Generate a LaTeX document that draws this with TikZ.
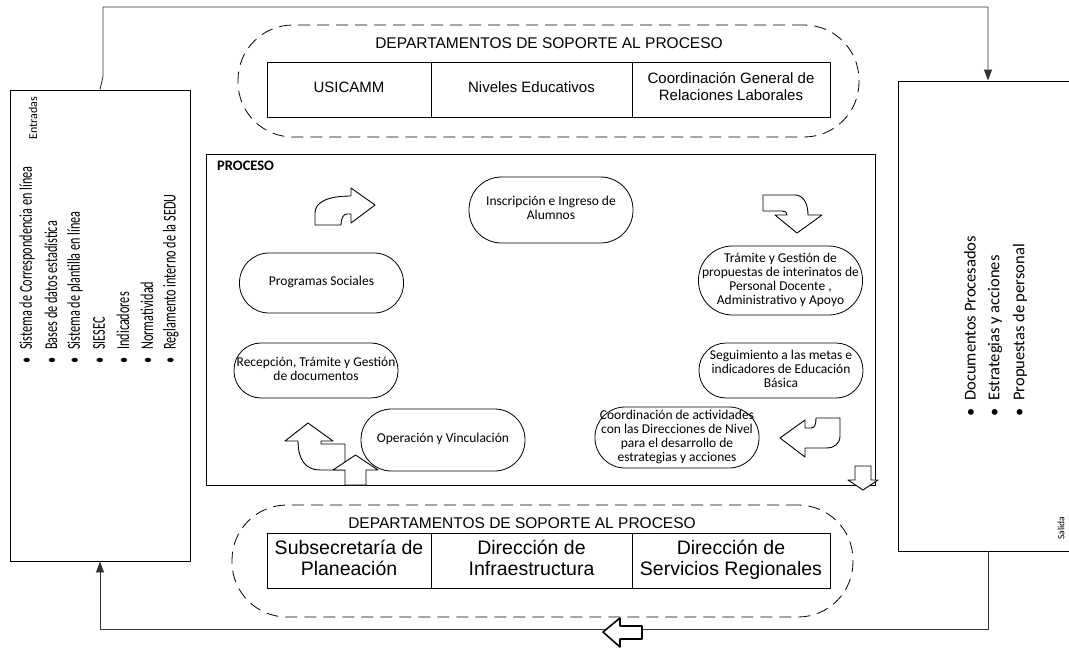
\documentclass[tikz,border=0pt]{standalone}
\usepackage{fontspec}
\setmainfont{Carlito}
\newfontfamily\arialfont{Liberation Sans}
\newfontfamily\listfont[FakeStretch=0.68]{Carlito}
\usetikzlibrary{arrows.meta}

\begin{document}
\begin{tikzpicture}[x=1pt,y=-1pt,line join=round,
  frame/.style={draw,line width=0.9pt,inner sep=0pt},
  stadium/.style={draw,line width=0.8pt,minimum height=#1,rounded corners=#1/2-0.5,minimum width=164,align=center,inner sep=0pt,font=\fontsize{13.5}{14}\selectfont,execute at begin node=\strut,execute at end node=\strut},
  cellbox/.style={draw,line width=0.9pt,minimum height=55,align=center,inner sep=0pt,execute at begin node=\strut,execute at end node=\strut},
  dept/.style={draw,dash pattern=on 12pt off 7pt,line width=0.8pt,rounded corners=55pt,minimum width=621,minimum height=112},
  depttitle/.style={font=\arialfont\fontsize{15.5}{16}\selectfont},
  bent/.style={draw,line width=0.9pt,fill=white},
  link/.style={draw,line width=0.9pt,black!80},
  tip/.style={-{Triangle[length=11pt,width=8pt]}},
  listitem/.style={rotate=90,anchor=west,inner sep=0pt,font=\listfont\fontsize{18}{18}\selectfont},
  outitem/.style={rotate=90,anchor=west,inner sep=0pt,font=\fontsize{16.5}{17}\selectfont}]
\useasboundingbox (0,0) rectangle (1069,648);

% entradas / salida
\node[frame,minimum width=180,minimum height=471] (entradas) at (100,325.5) {};
\node[frame,minimum width=174,minimum height=470] (salida) at (985,316) {};
\node[rotate=90,font=\fontsize{12}{12}\selectfont] (entLbl) at (33,118) {Entradas};
\node[rotate=90,font=\fontsize{9.5}{10}\selectfont] (salLbl) at (1061,528) {Salida};
\foreach \txt [count=\i] in {Sistema de Correspondencia en línea,Bases de datos estadística,Sistema de plantilla en línea,SIESEC,Indicadores,Normatividad,Reglamento interno de la SEDU}
  \node[listitem] (in\i) at ({3+24*\i},364) {\textbullet\hspace{8pt}\txt};
\foreach \txt [count=\i] in {Documentos Procesados,Estrategias y acciones,Propuestas de personal}
  \node[outitem] (out\i) at ({945+25*\i},417) {\textbullet\hspace{8pt}\txt};

% lazo de retroalimentacion
\coordinate (topR) at (988,7);
\coordinate (botR) at (988,629);
\coordinate (botL) at (100,629);
\draw[link,tip] (entradas.north) -- ++(3,-13) |- (topR) -- (topR |- salida.north);
\draw[link,tip] (botR |- salida.south) -- (botR) -- (botL) -- (entradas.south);
\draw[bent,line width=1.6pt] (603,632) -- (620,618) -- (620,626) -- (642,626) -- (642,639) -- (620,639) -- (620,647) -- cycle;

% departamentos de soporte (arriba)
\node[dept] (soporteA) at (548.5,81) {};
\node[depttitle] (tituloA) at (549,43) {DEPARTAMENTOS DE SOPORTE AL PROCESO};
\node[cellbox,minimum width=164,font=\arialfont\fontsize{15}{17}\selectfont] (usicamm) at (349,89.5) {USICAMM};
\node[cellbox,minimum width=201,font=\arialfont\fontsize{15}{17}\selectfont] (niveles) at (531.5,89.5) {Niveles Educativos};
\node[cellbox,minimum width=198,font=\arialfont\fontsize{15}{17}\selectfont] (laborales) at (731,89.5) {Coordinación General de\\Relaciones Laborales};

% departamentos de soporte (abajo)
\node[dept] (soporteB) at (542.5,561) {};
\node[depttitle] (tituloB) at (522,523) {DEPARTAMENTOS DE SOPORTE AL PROCESO};
\node[cellbox,minimum width=164,font=\arialfont\fontsize{19.5}{21}\selectfont] (planeacion) at (349,560.5) {Subsecretaría de\\Planeación};
\node[cellbox,minimum width=201,font=\arialfont\fontsize{19.5}{21}\selectfont] (infra) at (531.5,560.5) {Dirección de\\Infraestructura};
\node[cellbox,minimum width=198,font=\arialfont\fontsize{19.5}{21}\selectfont] (regionales) at (731,560.5) {Dirección de\\Servicios Regionales};

% proceso
\node[frame,line width=1pt,minimum width=669,minimum height=331] (proceso) at (540.5,319.5) {};
\node[anchor=west,inner sep=0pt,font=\bfseries\fontsize{14.5}{15}\selectfont] (procLbl) at (217,166) {PROCESO};
\node[stadium=66] (inscripcion) at (551,210) {Inscripción e Ingreso de\\Alumnos};
\node[stadium=60] (programas) at (321.5,283) {Programas Sociales};
\node[stadium=69] (tramite) at (780.5,280.5) {Trámite y Gestión de\\propuestas de interinatos de\\Personal Docente ,\\Administrativo y Apoyo};
\node[stadium=55] (recepcion) at (316,370.5) {Recepción, Trámite y Gestión\\de documentos};
\node[stadium=55] (seguimiento) at (781,370.5) {Seguimiento a las metas e\\indicadores de Educación\\Básica};
\node[stadium=62] (operacion) at (443,440) {Operación y Vinculación};
\node[stadium=61] (coordinacion) at (677,437.5) {Coordinación de actividades\\con las Direcciones de Nivel\\para el desarrollo de\\estrategias y acciones};

% flechas del ciclo
\draw[bent] (315,225) -- (315,213) .. controls (315,202) and (328,196) .. (351,196) -- (351,188) -- (375,205) -- (351,223) -- (351,214) -- (347,214) .. controls (343,214) and (341,219) .. (341,225) -- cycle;
\draw[bent] (763,195) -- (795,195) .. controls (803,195) and (808,203) .. (808,215) -- (822,215) -- (797,233) -- (775,215) -- (787,215) .. controls (787,212) and (785,211) .. (782,211) -- (763,211) -- cycle;
\draw[bent] (780,438) -- (805,420) -- (805,428) -- (811,428) .. controls (815,428) and (816,424) .. (816,418) -- (840,418) -- (840,436) .. controls (840,444) and (834,448) .. (826,448) -- (805,448) -- (805,457) -- cycle;
\draw[bent] (308,423) -- (333,441) -- (321,441) -- (321,444) -- (345,444) -- (345,470) -- (320,470) .. controls (306,470) and (298,460) .. (298,441) -- (285,441) -- cycle;
\draw[bent] (355.5,455) -- (378,470) -- (366,470) -- (366,485) -- (345,485) -- (345,470) -- (333,470) -- cycle;
\draw[bent] (863,490) -- (878,480) -- (871,480) -- (871,466) -- (855,466) -- (855,480) -- (848,480) -- cycle;
\end{tikzpicture}
\end{document}
